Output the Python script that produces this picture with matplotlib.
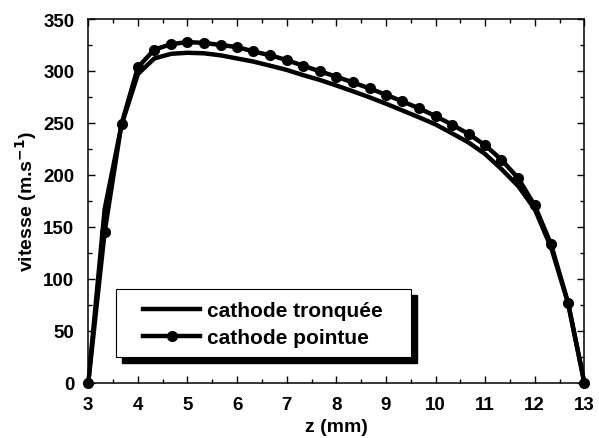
import matplotlib
matplotlib.use('Agg')
import matplotlib.pyplot as plt
from matplotlib.patches import Rectangle
from matplotlib.ticker import MultipleLocator

plt.rcParams['font.family'] = ['Liberation Sans', 'DejaVu Sans']
plt.rcParams['font.weight'] = 'bold'

# z positions (mm)
z = [3.0, 3.33, 3.67, 4.0, 4.33, 4.67, 5.0, 5.33, 5.67, 6.0, 6.33,
     6.67, 7.0, 7.33, 7.67, 8.0, 8.33, 8.67, 9.0, 9.33, 9.67, 10.0,
     10.33, 10.67, 11.0, 11.33, 11.67, 12.0, 12.33, 12.67, 13.0]

# vitesse (m/s)
v_tronquee = [0, 167, 248, 297, 312, 316.5, 317.5, 317, 315, 312, 309,
              305, 301, 296, 291.3, 286, 280.5, 274.6, 268.5, 262, 255.3, 248.5,
              240, 231, 220, 205.5, 189, 167, 130, 77, 0]
v_pointue = [0, 145, 249, 303.5, 320.5, 325.8, 327.8, 327, 325, 323, 318.8,
             315, 310.5, 305, 299.6, 294.5, 289, 283.2, 277.1, 270.7, 264, 256.5,
             248.4, 239.2, 228.5, 214.5, 196.5, 170.5, 133, 77, 0]

labels = ['cathode tronquée', 'cathode pointue']

fig = plt.figure(figsize=(5.99, 4.39), dpi=100)
ax = fig.add_axes([0.1474, 0.1264, 0.8281, 0.8280])

ax.plot(z, v_tronquee, color='black', lw=3.2, label=labels[0], zorder=3)
ax.plot(z, v_pointue, color='black', lw=3.2, marker='o', markersize=7,
        label=labels[1], zorder=4, clip_on=False)

ax.set_xlim(3, 13)
ax.set_ylim(0, 350)
ax.xaxis.set_major_locator(MultipleLocator(1))
ax.xaxis.set_minor_locator(MultipleLocator(0.5))
ax.yaxis.set_major_locator(MultipleLocator(50))
ax.yaxis.set_minor_locator(MultipleLocator(25))
ax.tick_params(which='both', direction='in', top=True, right=True, width=1)
ax.tick_params(which='major', length=5, labelsize=13.5, pad=10)
ax.tick_params(which='minor', length=3)
for s in ax.spines.values():
    s.set_linewidth(1.1)

ax.set_xlabel('z (mm)', fontsize=14, fontweight='bold', labelpad=3)
ax.set_ylabel('vitesse (m.s$^{\\mathbf{-1}}$)', fontsize=14, fontweight='bold', labelpad=3)

# legend box with hard shadow
x0, x1, y0, y1 = 0.0558, 0.650, 0.0710, 0.2572
ax.add_patch(Rectangle((x0 + 0.0121, y0 - 0.0165), x1 - x0, y1 - y0,
                       transform=ax.transAxes, facecolor='black',
                       edgecolor='black', zorder=5))
ax.add_patch(Rectangle((x0, y0), x1 - x0, y1 - y0, transform=ax.transAxes,
                       facecolor='white', edgecolor='black', lw=0.8, zorder=6))
leg = ax.legend(loc='center left', bbox_to_anchor=(0.1109, 0.1604),
                frameon=False, borderpad=0, borderaxespad=0,
                handlelength=2.74, handletextpad=0.3, labelspacing=0.4,
                prop={'size': 15, 'weight': 'bold'})
leg.set_zorder(7)

fig.savefig('out.png', dpi=100)
